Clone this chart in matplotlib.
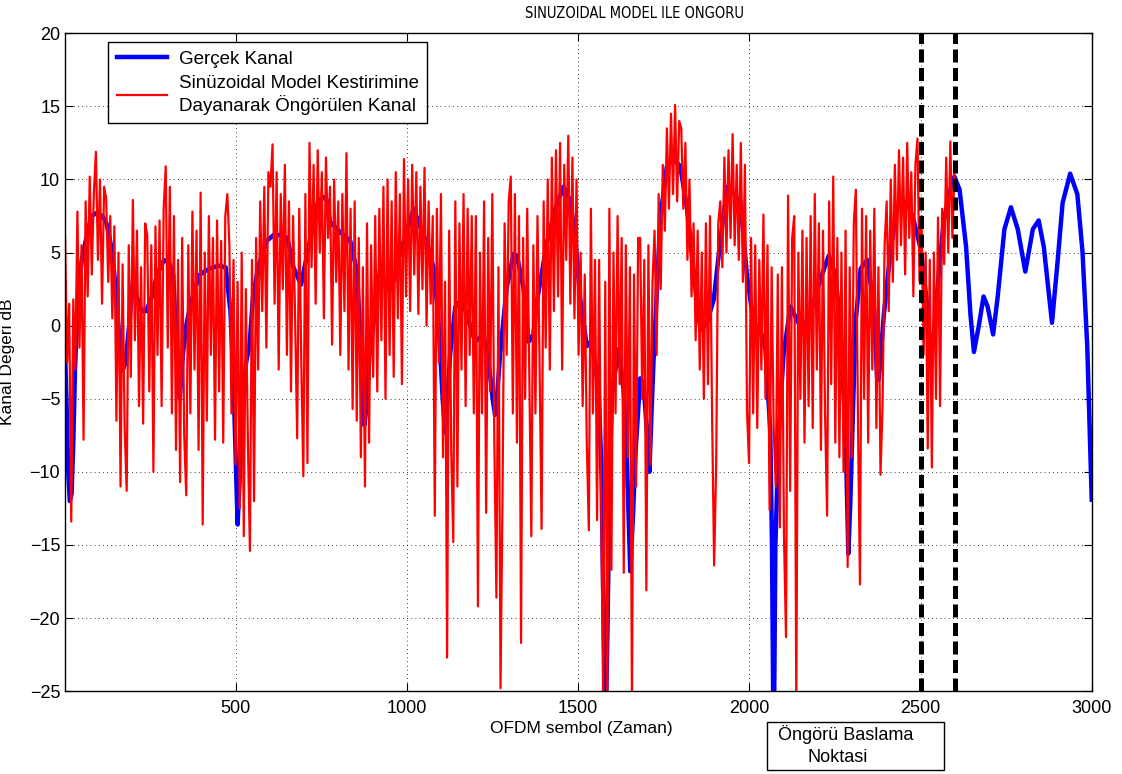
"""Sinusoidal model channel prediction: true channel vs predicted channel (dB)."""
import numpy as np
import matplotlib
matplotlib.use("Agg")
import matplotlib.pyplot as plt
from matplotlib.patches import Rectangle

plt.rcParams["font.family"] = ["Liberation Sans", "DejaVu Sans"]

# true channel (Gerçek Kanal): knots, OFDM symbol -> dB
true_x = [0, 5, 10, 15, 20, 25, 30, 39, 50, 63, 78, 93, 110, 122, 135, 145, 155, 163, 170, 178,
          188, 199, 210, 225, 238, 255, 270, 290, 305, 317, 327, 336, 345, 355, 365, 380, 395, 415, 435, 450,
          470, 484, 492, 498, 505, 512, 520, 530, 540, 550, 565, 590, 610, 630, 650, 668, 690, 705, 725, 740,
          755, 765, 775, 800, 834, 853, 862, 868, 875, 882, 890, 901, 921, 941, 960, 980, 1000, 1019, 1038, 1060,
          1077, 1090, 1097, 1104, 1111, 1118, 1126, 1141, 1160, 1174, 1199, 1223, 1238, 1250, 1257, 1264, 1272, 1291, 1311, 1321,
          1340, 1355, 1369, 1379, 1408, 1433, 1457, 1477, 1491, 1506, 1525, 1540, 1560, 1568, 1574, 1580, 1586, 1592, 1599, 1618,
          1633, 1642, 1652, 1660, 1667, 1681, 1691, 1700, 1708, 1714, 1720, 1740, 1759, 1779, 1798, 1818, 1837, 1857, 1876, 1896,
          1915, 1935, 1954, 1974, 1993, 2013, 2032, 2047, 2061, 2066, 2071, 2076, 2086, 2100, 2120, 2154, 2178, 2208, 2232, 2252,
          2266, 2281, 2289, 2295, 2301, 2310, 2325, 2344, 2364, 2373, 2378, 2393, 2413, 2432, 2461, 2480, 2500, 2519, 2529, 2539,
          2554, 2568, 2588, 2599, 2614, 2633, 2646, 2656, 2671, 2684, 2696, 2712, 2725, 2745, 2764, 2784, 2806, 2828, 2845, 2860,
          2884, 2900, 2915, 2937, 2958, 2973, 2987, 3000]
true_db = [-1, -5, -10, -12, -11.5, -8, -3, 2.5, 4.5, 6, 7.5, 7.7, 7.5, 7, 5.5, 3.5, 0.5, -2, -3, -2.5,
           0, 3, 2, 1, 1, 2, 3.5, 4.5, 4.3, 3.5, -2, -5, -2, 0, 1.2, 2.5, 3.5, 3.8, 4, 4.1,
           4, 1, -3, -8, -13.6, -10, -5, -2.5, -1.3, 2, 4, 5.8, 6.2, 6.2, 6, 4, 2.8, 4.5, 6.9, 8.5,
           8.8, 8.6, 7.1, 6.5, 5.8, 3.8, 0, -4, -6.8, -5.5, -2, 0, 3.8, 2.5, 3, 5, 6.5, 8, 6.8, 5.5,
           4, 1, -1.9, -5, -7.3, -5, -1.9, 1.3, 1.8, 0.8, -1.1, -0.6, -2.4, -5, -6.1, -4.5, -1.9, 2.6, 4.9, 4.8,
           2.6, -1.1, -0.6, 1.6, 5.6, 8, 9.5, 8.5, 6.1, 1.8, -1.4, -1, -4.5, -10, -20, -28, -20, -10, -4.5, -1.6,
           -4.5, -9, -16.8, -13, -8.8, -3.6, -4, -7, -10, -6, -2.4, 7.4, 10.9, 11.4, 10.9, 8, 3.7, -0.3, 0.2, 1.8,
           5.8, 9.5, 9, 8.5, 3.4, 0.1, -0.3, -1.6, -7.2, -15, -30, -15, -7.2, -1.9, 1.3, -0.3, 0.8, 3.2, 4.8, 3.4,
           -0.3, -7.2, -15.6, -12, -7.2, 0.2, 3.9, 4.5, 1.3, -3.5, -3.7, 0.8, 5.3, 8.2, 8.5, 7.2, 5.3, 1.5, -1.7, -0.6,
           3.8, 7.2, 9.4, 10.2, 9.3, 5.4, 0.7, -1.8, 0.1, 2, 1.3, -0.6, 1.9, 6.6, 8.1, 6.6, 3.7, 6.6, 7.2, 5.4,
           0.2, 4.3, 8.4, 10.4, 9, 5.1, -1.4, -11.9]

# predicted channel: one value every 6th symbol, from symbol 1 up to the start of prediction
pred_step = 6
pred_db = [
    6.0, -2.5, 1.5, -13.4, 1.8, -3.0, 7.8, -1.5, 5.5, -7.8, 8.5, 2.0, 10.2, 3.5, 9.0, 11.9, 4.5, 10.0, 1.5, 9.5,
    8.7, 3.0, 7.5, 0.5, 6.8, -6.5, 5.0, -11.0, 4.2, -7.0, -11.3, 5.5, -3.5, 8.6, -1.0, 6.5, -5.5, 4.0, -6.7, 7.0,
    6.2, -4.5, 5.5, -10.0, 6.8, -2.0, 7.2, -5.5, 8.0, 10.9, -1.5, 9.5, -6.0, 7.5, -8.5, 4.5, -10.7, 6.0, -7.5, -11.6,
    5.5, -6.0, 7.8, -3.0, 6.5, -8.5, 9.1, -13.6, 5.0, -6.5, 7.5, -2.0, 6.0, -7.8, 7.2, -4.5, 5.8, -8.0, 7.5, 9.0,
    5.5, -6.0, 4.5, -9.5, 3.0, -12.5, 5.0, -14.4, 2.5, -8.0, -15.4, 4.5, -12.0, 6.0, -3.0, 8.5, 1.0, 9.5, -1.5, 10.5,
    9.5, 12.4, 1.5, 10.5, -3.0, 9.0, 2.5, 11.0, -2.0, 8.5, -4.5, 7.5, 0.5, -7.7, 8.0, -2.5, -10.3, 9.0, -9.4, 12.5,
    4.0, 11.0, 1.5, 12.0, 5.0, 10.5, 0.5, 11.5, 6.0, 9.5, -1.3, 10.0, 3.0, 8.5, -2.0, 9.0, 1.0, 11.8, -3.0, 8.0,
    -5.7, 8.5, -6.5, 6.0, -9.0, 4.0, -11.0, 7.0, -8.0, 5.5, -3.5, 7.5, -4.5, 8.0, -1.0, 9.5, -5.0, 10.0, -2.0, 8.5,
    -3.5, 10.5, 0.5, 9.0, -4.0, 11.4, 2.0, 10.0, 1.0, 11.0, 3.5, 10.5, 0.8, 9.5, 2.5, 10.8, 0.0, 8.5, 1.5, 7.5,
    -13.0, 8.0, -2.5, 9.0, -9.0, 3.0, -22.7, 6.5, -8.5, -14.8, 8.5, -11.0, 7.0, -3.0, 9.0, -5.5, 8.0, -2.0, 7.5, -6.0,
    7.5, -19.2, 5.0, -6.0, 8.5, -12.8, 6.0, -4.5, 9.0, -8.0, -18.6, 4.0, -24.8, -11.4, 7.0, -2.0, 8.5, 10.2, -6.0, 9.0,
    -8.0, 7.5, -21.7, 6.0, -5.0, 8.0, -3.5, -14.4, 5.5, -6.0, 7.5, -2.5, -13.9, 8.5, -1.5, 10.0, -3.0, 11.5, 1.0, 12.0,
    2.0, 12.5, -3.0, 11.0, 4.5, 13.0, 1.5, 11.5, 0.5, 10.0, -2.0, 5.0, -5.5, 3.5, -8.0, -14.0, 8.0, -6.0, 4.5, -13.3,
    4.5, -12.0, -26.0, 3.0, -26.0, 8.0, -16.7, 5.0, -6.0, 7.5, -4.0, 6.0, -16.9, 5.5, -9.0, 4.0, -26.0, 3.5, -11.0, 6.0,
    6.0, -5.0, 4.5, -18.1, 5.5, -9.5, 3.0, 6.5, -2.0, 9.0, 2.5, 11.0, 6.5, 13.5, 8.0, 14.5, 9.0, 15.1, 8.5, 14.0,
    13.5, 8.0, 12.5, 4.5, 10.0, 2.0, 7.0, -1.0, 6.5, -3.0, 5.0, -5.0, 7.0, -4.0, 7.5, -6.0, -16.4, -9.5, 7.0, 8.5,
    4.0, 11.5, 5.0, 12.0, 6.0, 13.1, 5.5, 11.0, 4.5, 12.5, 3.0, 11.0, -5.8, -9.4, 6.0, -6.0, 5.5, -7.0, 4.5, -3.0,
    7.6, -5.0, 5.5, -12.6, 4.0, -7.0, -11.0, 3.5, -13.8, 4.0, -14.3, -21.3, 8.9, -11.3, 6.0, 7.5, -26.0, 5.0, -5.0, 6.5,
    -8.0, 6.0, -5.5, 7.5, -7.0, 9.0, -3.0, 7.0, -8.5, 6.5, -6.0, -13.0, 8.5, -4.0, 10.2, -8.0, 6.0, -9.0, 5.0, -10.0,
    6.5, -16.5, 4.0, -9.0, 7.0, 9.3, -6.0, -17.7, 8.0, -5.0, 7.5, -8.0, 6.5, -3.0, 8.0, -7.0, 4.0, -10.2, -5.5, 5.5,
    8.5, 1.0, 10.0, 3.0, 11.0, 4.5, 12.0, 5.5, 11.5, 3.5, 12.5, 6.0, 10.5, 2.0, 11.0, 12.8, 3.0, 7.5, -2.0, 5.0,
    -8.4, 4.5, -9.7, 5.0, -5.0, 7.4, -5.5, 8.0, 4.2, 11.5, 5.0, 12.6, 6.0, 10.5,
]
pred_x = np.arange(1, 1 + pred_step * len(pred_db), pred_step)

# prediction start markers
marker_x = [2500, 2600]

fig = plt.figure(figsize=(11.22, 7.74), dpi=100)
ax = fig.add_axes([0.058, 0.107, 0.915, 0.85])

ax.plot(true_x, true_db, color="#0000ff", lw=3.2, label="Gerçek Kanal")
ax.plot(pred_x, pred_db, color="#ff0000", lw=1.6,
        label="Sinüzoidal Model Kestirimine\nDayanarak Öngörülen Kanal")
for mx in marker_x:
    ax.axvline(mx, color="black", lw=3.6, linestyle=(0, (2.6, 1.1)))

ax.set_xlim(1, 3000)
ax.set_ylim(-25, 20)
ax.set_xticks([500, 1000, 1500, 2000, 2500, 3000])
ax.set_yticks(np.arange(-25, 21, 5))
ax.tick_params(direction="in", top=True, right=True, labelsize=13, length=6)
ax.tick_params(axis="x", pad=6)
ax.grid(True, color="black", linestyle=(0, (1, 4)), lw=0.6)
for s in ax.spines.values():
    s.set_linewidth(1.0)

ax.set_title("SINUZOIDAL MODEL ILE ONGORU", fontsize=10.5, pad=11, x=0.555,
             family="DejaVu Sans", fontstretch="condensed")
ax.set_xlabel("OFDM sembol (Zaman)", fontsize=12.5, labelpad=3)
ax.xaxis.set_label_coords(0.503, -0.045)
ax.set_ylabel("Kanal Değeri dB", fontsize=12.5)
ax.yaxis.set_label_coords(-0.049, 0.5)

leg = ax.legend(loc="upper left", bbox_to_anchor=(0.042, 0.986), borderaxespad=0,
                fontsize=13.5, handlelength=2.7, handletextpad=0.6, fancybox=False,
                framealpha=1, edgecolor="black", labelspacing=0.35, borderpad=0.45)
leg.get_frame().set_linewidth(1.0)

# text box under the axis
fig.patches.append(Rectangle((767 / 1122, 1 - 770 / 774), 177 / 1122, 48 / 774,
                             transform=fig.transFigure, fill=False, edgecolor="black", lw=1.0))
fig.text(846 / 1122, 1 - 734 / 774, "Öngörü Baslama", ha="center", va="center", fontsize=13)
fig.text(838 / 1122, 1 - 758 / 774, "Noktasi", ha="center", va="center", fontsize=13)

fig.savefig("out.png", dpi=100)
